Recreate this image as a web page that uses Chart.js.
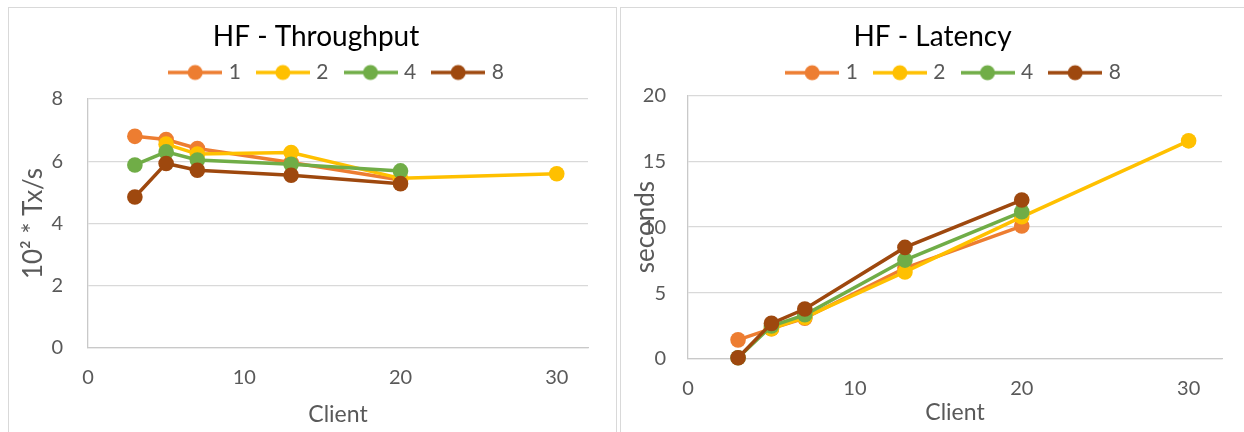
<!DOCTYPE html>
<html lang="en">
<head>
    <meta charset="UTF-8">
    <title>HF - Throughput / Latency</title>
    <script src="https://cdn.jsdelivr.net/npm/chart.js"></script>
    <style>
        body {
            margin: 0;
            width: 1244px;
            height: 432px;
            overflow: hidden;
            position: relative;
            background: #fff;
        }
        .panel {
            position: absolute;
            top: 7px;
            height: 440px;
            border: 1px solid #d9d9d9;
            box-sizing: border-box;
            background: #fff;
        }
        #leftPanel { left: 8px; width: 609px; }
        #rightPanel { left: 620px; width: 640px; }
        canvas { position: absolute; left: 0; top: 0; }
    </style>
</head>
<body>
    <div class="panel" id="leftPanel"><canvas id="tpChart" width="607" height="430"></canvas></div>
    <div class="panel" id="rightPanel"><canvas id="latChart" width="623" height="430"></canvas></div>
    <script>
        // data
        const clients = [3, 5, 7, 13, 20, 30];
        const seriesNames = ['1', '2', '4', '8'];
        const seriesColors = ['#ED7D31', '#FFC000', '#70AD47', '#9E480E'];

        const tp1 = [6.8, 6.7, 6.41, 5.96, 5.4, null];
        const tp2 = [null, 6.55, 6.23, 6.28, 5.45, 5.6];
        const tp4 = [5.88, 6.3, 6.04, 5.9, 5.69, null];
        const tp8 = [4.85, 5.93, 5.71, 5.55, 5.28, null];

        const lat1 = [1.45, 2.3, 3.1, 6.9, 10.08, null];
        const lat2 = [null, 2.3, 3.15, 6.6, 10.78, 16.54];
        const lat4 = [0.1, 2.5, 3.35, 7.5, 11.16, null];
        const lat8 = [0.1, 2.7, 3.79, 8.46, 12.05, null];

        const xTicks = [0, 10, 20, 30];

        Chart.defaults.font.family = 'Lato, "Open Sans", sans-serif';
        Chart.defaults.color = '#595959';

        // legend key: line with a dot in the middle
        function makeKey(color) {
            const c = document.createElement('canvas');
            c.width = 54;
            c.height = 18;
            const g = c.getContext('2d');
            g.strokeStyle = color;
            g.lineWidth = 3.5;
            g.beginPath();
            g.moveTo(0, 9);
            g.lineTo(54, 9);
            g.stroke();
            g.fillStyle = color;
            g.beginPath();
            g.arc(27, 9, 7.5, 0, Math.PI * 2);
            g.fill();
            return c;
        }
        const keys = seriesColors.map(makeKey);

        function toPoints(values) {
            const pts = [];
            values.forEach((v, i) => {
                if (v !== null) pts.push({ x: clients[i], y: v });
            });
            return pts;
        }

        function makeChart(id, title, yTitle, series, yMax, yStep, g) {
            const datasets = series.map((vals, i) => ({
                label: seriesNames[i],
                data: toPoints(vals),
                borderColor: seriesColors[i],
                backgroundColor: seriesColors[i],
                borderWidth: 3.5,
                pointRadius: 7.8,
                pointBorderWidth: 0,
                pointBackgroundColor: seriesColors[i],
                tension: 0,
                clip: false,
                order: series.length - i
            }));

            new Chart(document.getElementById(id), {
                type: 'line',
                data: { datasets: datasets },
                options: {
                    responsive: false,
                    animation: false,
                    layout: { padding: { left: g.padLeft, right: g.padRight, top: 0, bottom: g.padBottom } },
                    plugins: {
                        title: {
                            display: true,
                            text: title,
                            color: '#000',
                            font: { size: 28, weight: 'normal' },
                            padding: { top: 12, bottom: g.titleBottom }
                        },
                        // empty spacer between legend and plot
                        subtitle: {
                            display: true,
                            text: '',
                            weight: 500,
                            font: { size: 1, lineHeight: 1 },
                            padding: { top: g.gap, bottom: 0 }
                        },
                        legend: {
                            display: true,
                            position: 'top',
                            fullSize: false,
                            labels: {
                                usePointStyle: true,
                                pointStyleWidth: 46,
                                color: '#595959',
                                font: { size: 21 },
                                padding: 19,
                                generateLabels: (chart) => {
                                    const items = Chart.defaults.plugins.legend.labels.generateLabels(chart);
                                    items.forEach(it => { it.pointStyle = keys[it.datasetIndex]; });
                                    return items;
                                },
                                sort: (a, b) => a.datasetIndex - b.datasetIndex
                            }
                        },
                        tooltip: { enabled: false }
                    },
                    scales: {
                        x: {
                            type: 'linear',
                            min: 0,
                            max: 32,
                            afterFit: (s) => { s.height = g.xHeight; },
                            afterBuildTicks: (s) => { s.ticks = xTicks.map(v => ({ value: v })); },
                            grid: { display: false, drawTicks: false },
                            border: { display: true, color: '#c9c9c9', width: 1.3 },
                            ticks: { font: { size: 20 }, color: '#595959', padding: g.xTickPad },
                            title: {
                                display: true,
                                text: 'Client',
                                color: '#595959',
                                font: { size: 23 },
                                padding: { top: 0, bottom: g.xTitlePad }
                            }
                        },
                        y: {
                            min: 0,
                            max: yMax,
                            afterFit: (s) => { s.width = g.yWidth; },
                            grid: { color: '#d9d9d9', lineWidth: 1.3, drawTicks: false },
                            border: { display: true, color: '#c9c9c9', width: 1.3 },
                            ticks: { stepSize: yStep, font: { size: 20 }, color: '#595959', padding: g.yTickPad },
                            title: {
                                display: true,
                                text: yTitle,
                                color: '#595959',
                                font: { size: 26 },
                                padding: { top: g.yTitlePad, bottom: 0 }
                            }
                        }
                    }
                }
            });
        }

        makeChart('tpChart', 'HF - Throughput', '10\u00B2 * Tx/s', [tp1, tp2, tp4, tp8], 8, 2, {
            padLeft: 35, padRight: 28, padBottom: 5, yWidth: 44, xHeight: 85,
            titleBottom: -10.6, gap: 5, xTickPad: 18, xTitlePad: 4.2,
            yTickPad: 25, yTitlePad: -26.1
        });

        makeChart('latChart', 'HF - Latency', 'seconds', [lat1, lat2, lat4, lat8], 20, 5, {
            padLeft: 22, padRight: 22, padBottom: 5, yWidth: 45, xHeight: 74,
            titleBottom: -10.4, gap: 1, xTickPad: 18, xTitlePad: 6.2,
            yTickPad: 22, yTitlePad: -13.1
        });
    </script>
</body>
</html>
